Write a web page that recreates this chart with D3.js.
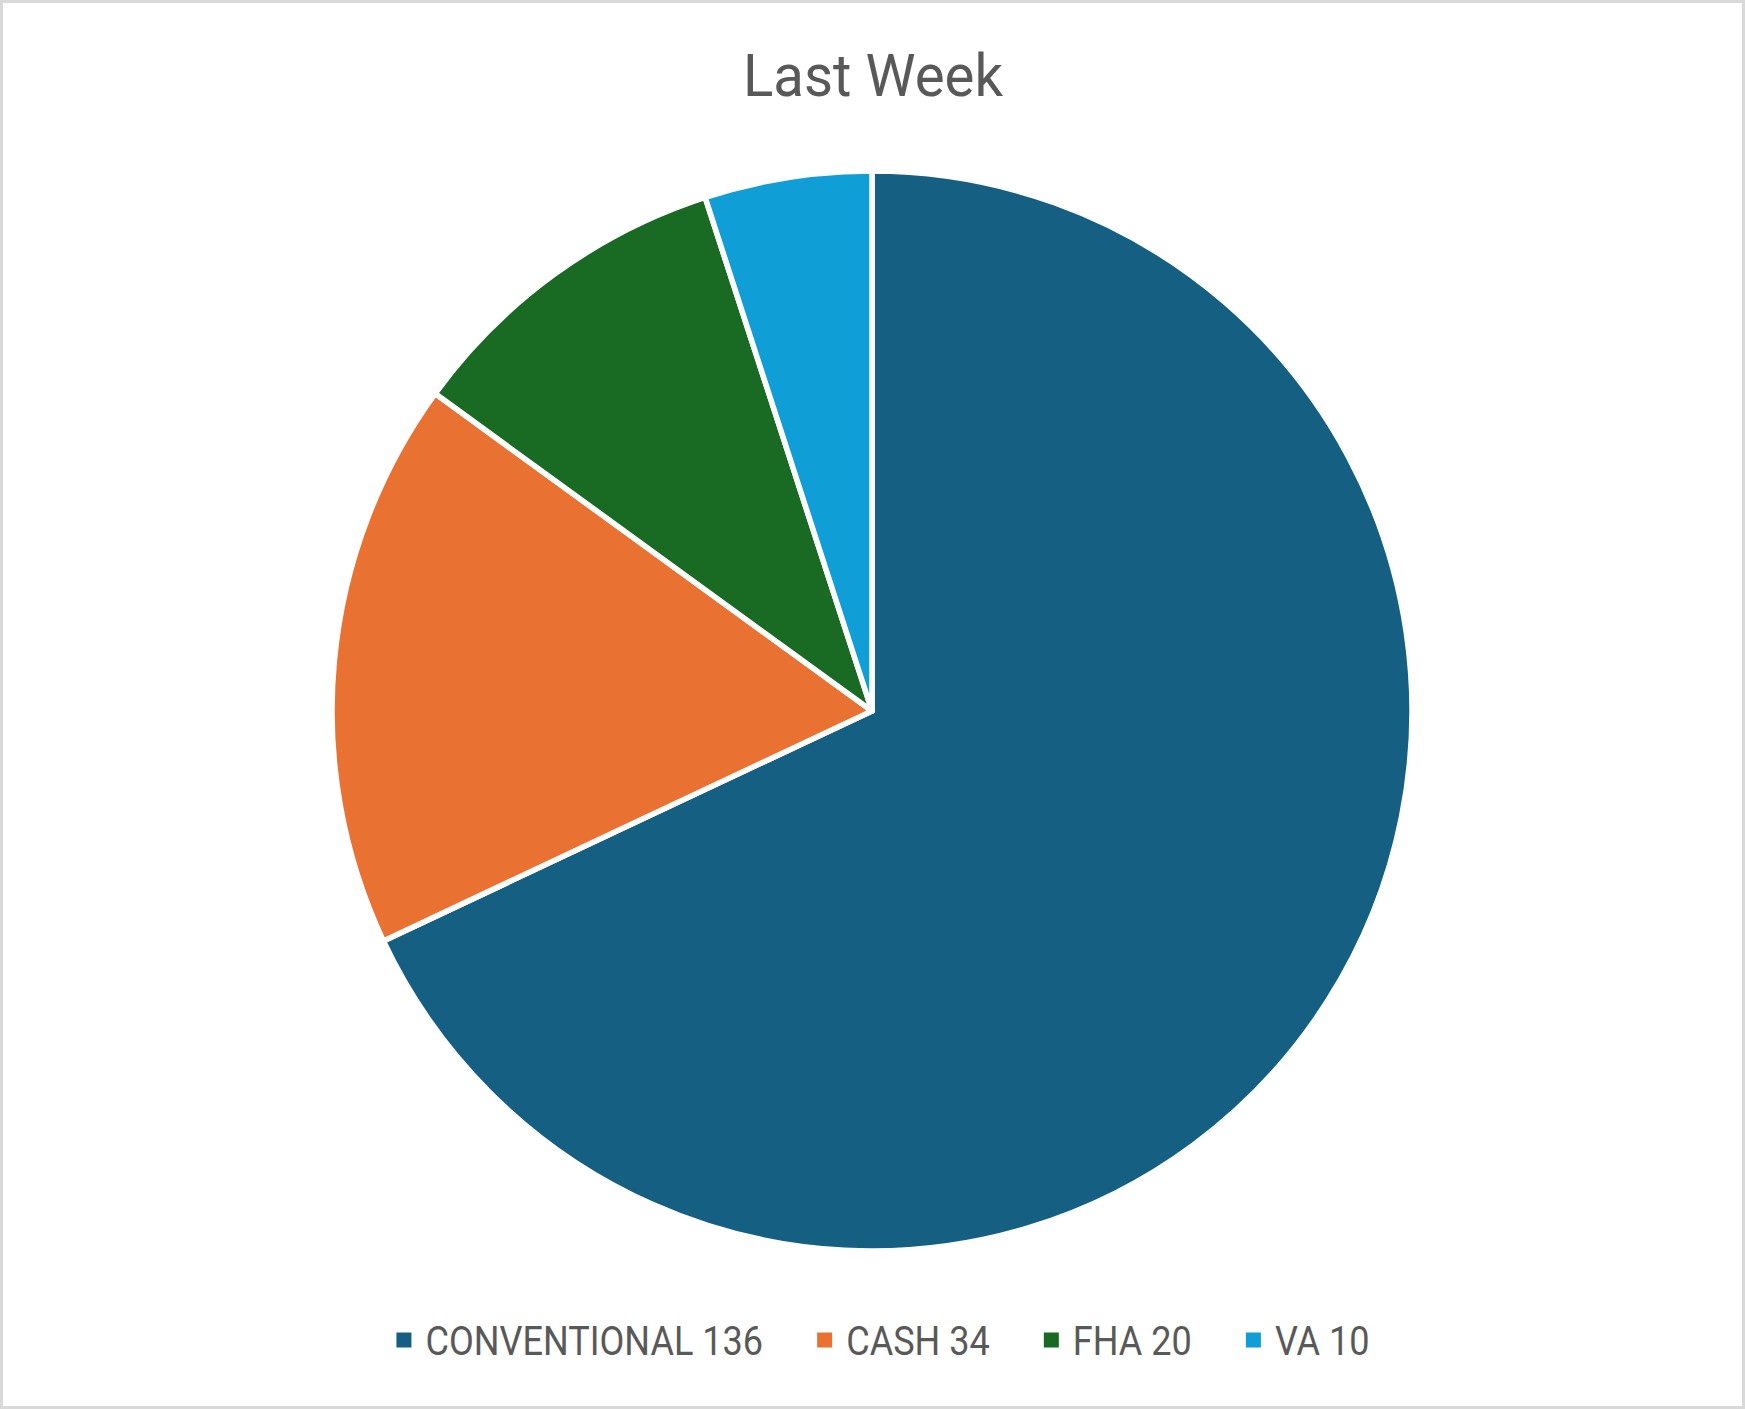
<!DOCTYPE html>
<html>
<head>
<meta charset="utf-8">
<script src="https://cdn.jsdelivr.net/npm/d3@7"></script>
<style>
  html, body { margin: 0; padding: 0; background: #fff; }
  svg { display: block; }
</style>
</head>
<body>
<svg id="pie-chart"></svg>
<script>
const categories = ['CONVENTIONAL', 'CASH', 'FHA', 'VA'];
const values = [136, 34, 20, 10];
const colors = ['#156082', '#E97132', '#196B24', '#0F9ED5'];
const title = 'Last Week';

const width = 1745;
const height = 1409;
const cx = 872;
const cy = 711;
const radius = 540;

const svg = d3.select('#pie-chart')
  .attr('width', width)
  .attr('height', height);

// frame
svg.append('rect')
  .attr('x', 1.5).attr('y', 1.5)
  .attr('width', width - 3).attr('height', height - 3)
  .attr('fill', '#fff')
  .attr('stroke', '#d9d9d9')
  .attr('stroke-width', 3);

// title, squeezed a little to look like the narrow office font
const titleText = svg.append('text')
  .attr('x', 873)
  .attr('y', 96)
  .attr('text-anchor', 'middle')
  .attr('font-family', 'Roboto, "Open Sans", sans-serif')
  .attr('font-size', 59)
  .attr('fill', '#595959')
  .text(title);
titleText.attr('textLength', titleText.node().getComputedTextLength() * 0.955)
  .attr('lengthAdjust', 'spacingAndGlyphs');

// pie
const data = categories.map((c, i) => ({ name: c, value: values[i], color: colors[i] }));

const pie = d3.pie()
  .sort(null)
  .value(d => d.value);

const arc = d3.arc()
  .innerRadius(0)
  .outerRadius(radius);

const g = svg.append('g')
  .attr('transform', 'translate(' + cx + ',' + cy + ')');

g.selectAll('path')
  .data(pie(data))
  .join('path')
    .attr('d', arc)
    .attr('fill', d => d.data.color)
    .attr('stroke', '#fff')
    .attr('stroke-width', 5.5)
    .attr('stroke-linejoin', 'round');

// legend
const legend = svg.append('g');
const squeeze = 0.88;
const markerSize = 15;
const markerGap = 14;
const itemGap = 54;

const items = legend.selectAll('g')
  .data(data)
  .join('g');

items.append('rect')
  .attr('width', markerSize)
  .attr('height', markerSize)
  .attr('y', -markerSize / 2 - 1)
  .attr('fill', d => d.color);

items.append('text')
  .attr('x', markerSize + markerGap)
  .attr('y', 14)
  .attr('font-family', 'Roboto, "Open Sans", sans-serif')
  .attr('font-size', 41)
  .attr('fill', '#595959')
  .text(d => d.name + ' ' + d.value)
  .each(function() {
    const w = this.getComputedTextLength() * squeeze;
    d3.select(this).attr('textLength', w).attr('lengthAdjust', 'spacingAndGlyphs');
    this.__w = w;
  });

// lay out the items side by side and centre the row
let xPos = 0;
const offsets = [];
items.each(function() {
  offsets.push(xPos);
  const w = d3.select(this).select('text').node().__w;
  xPos += markerSize + markerGap + w + itemGap;
});
const total = xPos - itemGap;
const startX = 883 - total / 2;
items.attr('transform', (d, i) => 'translate(' + (startX + offsets[i]) + ',1341)');
</script>
</body>
</html>
